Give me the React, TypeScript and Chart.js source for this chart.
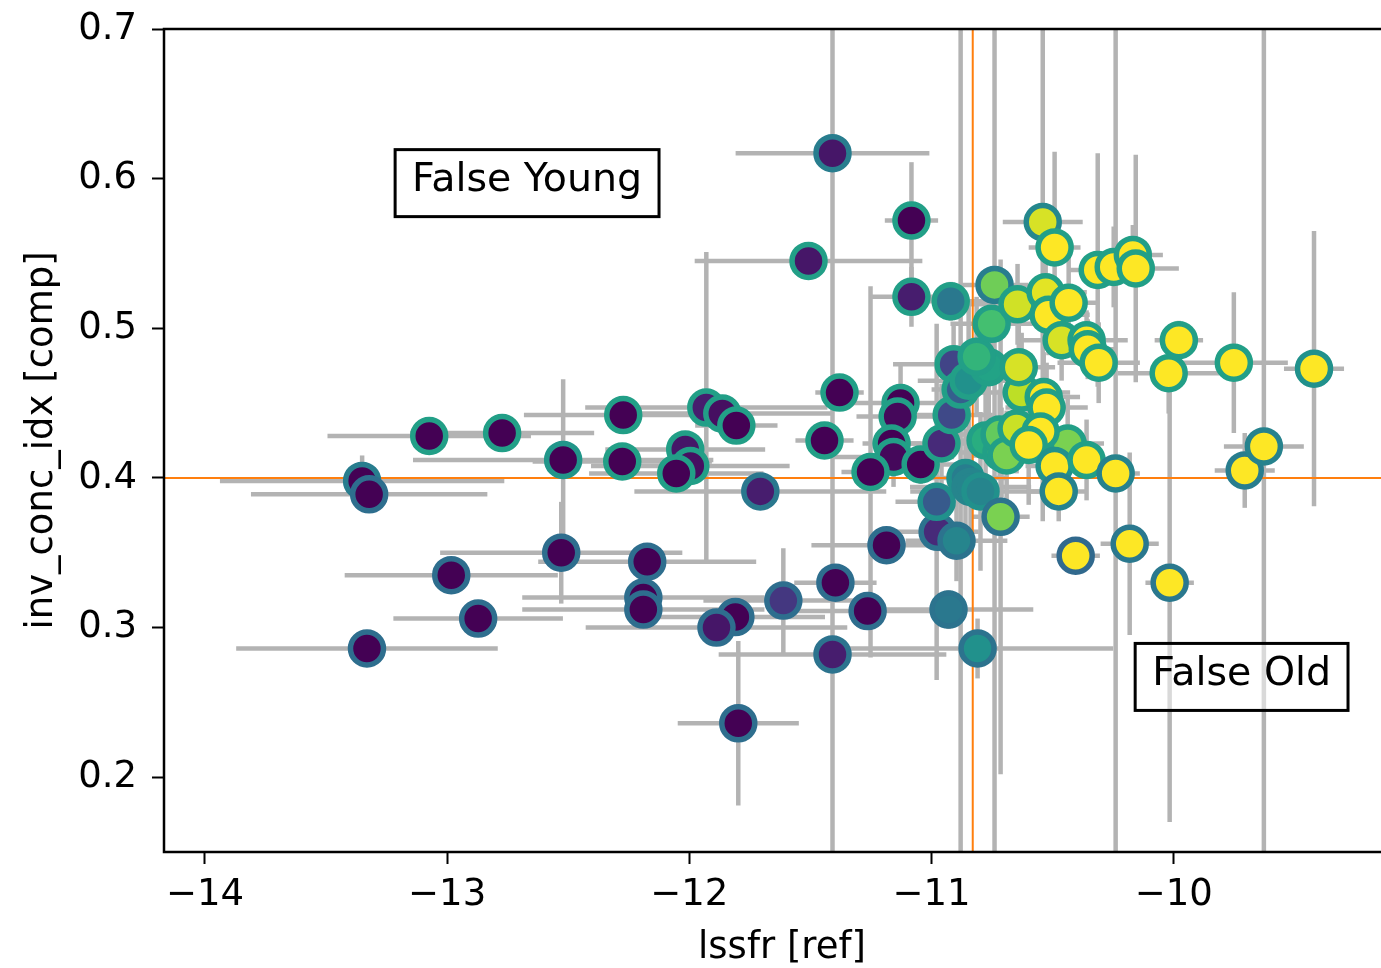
import React, { useEffect, useRef } from "react";
import { Chart, registerables } from "chart.js";
Chart.register(...registerables);

// lssfr [ref] (x) values
const lssfr = [
  -13.351, -13.322, -13.074, -12.773, -12.521, -12.529, -12.983, -12.872, -13.331, -12.273,
  -12.277, -11.930, -11.864, -11.806, -12.017, -11.996, -12.054, -11.707, -11.380, -11.442,
  -11.128, -11.140, -11.165, -11.157, -11.252, -11.045, -11.186, -11.397, -11.264, -11.810,
  -11.888, -12.174, -12.190, -12.190, -11.798, -11.409, -11.409, -11.083, -11.508, -11.083,
  -11.612, -10.975, -10.959, -10.909, -10.917, -10.979, -10.880, -10.921, -10.930, -10.897,
  -10.860, -10.839, -10.798, -10.847, -10.810, -10.764, -10.814, -10.777, -10.752, -10.740,
  -10.715, -10.711, -10.719, -10.690, -10.438, -10.628, -10.649, -10.640, -10.645, -10.541,
  -10.529, -10.517, -10.434, -10.463, -10.360, -10.355, -10.310, -10.492, -10.314, -10.248,
  -10.169, -10.157, -9.979, -10.021, -9.752, -9.421, -10.537, -10.525, -10.550, -10.599,
  -10.492, -10.360, -10.475, -10.240, -9.707, -9.628, -10.405, -10.182, -10.017,
];
// inv_conc_idx [comp] (y) values
const invConc = [
  0.398, 0.389, 0.428, 0.430, 0.412, 0.350, 0.335, 0.306, 0.286, 0.442,
  0.411, 0.447, 0.443, 0.435, 0.419, 0.408, 0.403, 0.391, 0.457, 0.425,
  0.450, 0.441, 0.423, 0.414, 0.404, 0.409, 0.355, 0.330, 0.311, 0.307,
  0.300, 0.344, 0.320, 0.312, 0.236, 0.617, 0.282, 0.572, 0.545, 0.521,
  0.318, 0.364, 0.423, 0.476, 0.442, 0.384, 0.459, 0.518, 0.312, 0.358,
  0.400, 0.394, 0.391, 0.465, 0.286, 0.474, 0.481, 0.425, 0.503, 0.529,
  0.374, 0.417, 0.429, 0.415, 0.423, 0.457, 0.433, 0.474, 0.516, 0.571,
  0.524, 0.509, 0.517, 0.492, 0.492, 0.486, 0.477, 0.554, 0.539, 0.541,
  0.549, 0.540, 0.492, 0.470, 0.477, 0.473, 0.454, 0.447, 0.431, 0.422,
  0.408, 0.412, 0.391, 0.403, 0.405, 0.421, 0.348, 0.356, 0.330,
];
// symmetric error on lssfr
const lssfrErr = [
  0.587, 0.488, 0.42, 0.38, 0.62, 0.50, 0.44, 0.35, 0.54, 0.41,
  0.37, 0.50, 0.45, 0.17, 0.33, 0.41, 0.36, 0.52, 0.10, 0.12,
  0.21, 0.17, 0.12, 0.25, 0.12, 0.17, 0.31, 0.17, 0.37, 0.37,
  0.54, 0.45, 0.50, 0.50, 0.25, 0.40, 0.47, 0.11, 0.47, 0.17,
  0.33, 0.17, 0.25, 0.25, 0.17, 0.17, 0.12, 0.19, 0.35, 0.21,
  0.17, 0.25, 0.29, 0.21, 0.56, 0.17, 0.17, 0.20, 0.17, 0.14,
  0.12, 0.17, 0.20, 0.15, 0.15, 0.20, 0.15, 0.15, 0.20, 0.165,
  0.17, 0.17, 0.12, 0.17, 0.17, 0.12, 0.17, 0.107, 0.12, 0.12,
  0.124, 0.178, 0.10, 0.21, 0.223, 0.124, 0.15, 0.17, 0.12, 0.20,
  0.12, 0.17, 0.12, 0.10, 0.124, 0.165, 0.10, 0.12, 0.10,
];
// symmetric error on inv_conc_idx
const invConcErr = [
  0.017, 0.003, 0, 0, 0.054, 0.034, 0, 0, 0, 0.007,
  0, 0.104, 0, 0, 0, 0, 0, 0, 0, 0,
  0.027, 0.013, 0, 0.02, 0.124, 0.013, 0, 0, 0, 0,
  0, 0, 0, 0.007, 0.055, 0.468, 0, 0.039, 0, 0.02,
  0.035, 0.013, 0.04, 0.027, 0.02, 0.119, 0.309, 0.013, 0.013, 0.027,
  0.033, 0.04, 0.053, 0.053, 0.02, 0.04, 0.04, 0.04, 0.02, 0.38,
  0.172, 0.03, 0.03, 0.03, 0.03, 0.04, 0.03, 0.03, 0.027, 0.2,
  0.02, 0.027, 0.033, 0.027, 0.02, 0.02, 0.027, 0.064, 0.078, 0.027,
  0.02, 0.076, 0.013, 0.027, 0.047, 0.092, 0.03, 0.03, 0.03, 0.04,
  0.027, 0.027, 0.02, 0.30, 0.025, 0.30, 0, 0.061, 0.16,
];
// colormap level of marker face
const fillLevel = [
  0, 0, 0, 0, 0, 0, 0, 0, 0, 0,
  0, 0.08, 0.04, 0, 0.06, 0.04, 0, 0.08, 0, 0,
  0, 0.02, 0, 0.02, 0, 0, 0, 0, 0, 0,
  0.06, 0, 0, 0, 0, 0.06, 0.08, 0, 0.06, 0.08,
  0.16, 0.12, 0.12, 0.2, 0.22, 0.28, 0.3, 0.4, 0.4, 0.45,
  0.42, 0.45, 0.45, 0.5, 0.5, 0.58, 0.65, 0.62, 0.7, 0.78,
  0.8, 0.78, 0.76, 0.8, 0.8, 0.9, 0.92, 0.94, 0.93, 0.94,
  0.96, 1, 1, 0.94, 1, 1, 1, 1, 1, 1,
  1, 1, 1, 1, 1, 1, 1, 1, 1, 1,
  1, 1, 1, 1, 1, 1, 1, 1, 1,
];
// colormap level of marker edge
const edgeLevel = [
  0.42, 0.36, 0.56, 0.56, 0.52, 0.36, 0.36, 0.36, 0.36, 0.56,
  0.56, 0.56, 0.56, 0.56, 0.56, 0.56, 0.56, 0.40, 0.56, 0.56,
  0.56, 0.56, 0.56, 0.56, 0.56, 0.56, 0.36, 0.36, 0.36, 0.36,
  0.36, 0.36, 0.36, 0.36, 0.36, 0.42, 0.38, 0.56, 0.56, 0.56,
  0.36, 0.38, 0.56, 0.56, 0.56, 0.50, 0.56, 0.56, 0.38, 0.38,
  0.50, 0.45, 0.50, 0.56, 0.38, 0.56, 0.56, 0.56, 0.56, 0.42,
  0.38, 0.56, 0.56, 0.56, 0.56, 0.56, 0.56, 0.56, 0.56, 0.46,
  0.56, 0.56, 0.56, 0.56, 0.56, 0.56, 0.56, 0.56, 0.56, 0.56,
  0.56, 0.56, 0.56, 0.56, 0.56, 0.50, 0.56, 0.56, 0.56, 0.56,
  0.50, 0.56, 0.44, 0.44, 0.42, 0.44, 0.34, 0.40, 0.40,
];

const xTickValues = [-14, -13, -12, -11, -10];
const yTickValues = [0.2, 0.3, 0.4, 0.5, 0.6, 0.7];
const X_MIN = -14.169;
const X_MAX = -9.066;
const Y_MIN = 0.15;
const Y_MAX = 0.7;
const refX = -10.83;
const refY = 0.4;
const boxLabels = ["False Young", "False Old"];
const boxX = [-12.67, -9.72];
const boxY = [0.597, 0.267];
const xTitle = "lssfr [ref]";
const yTitle = "inv_conc_idx [comp]";

const VIRIDIS = [
  [68, 1, 84], [72, 36, 117], [65, 68, 135], [53, 95, 141], [42, 120, 142],
  [33, 145, 140], [34, 168, 132], [68, 191, 112], [122, 209, 81], [189, 223, 38], [253, 231, 37],
];
function viridis(t: number): string {
  const c = Math.max(0, Math.min(1, t)) * 10;
  const i = Math.min(9, Math.floor(c));
  const f = c - i;
  const a = VIRIDIS[i], b = VIRIDIS[i + 1];
  const m = (k: number) => Math.round(a[k] + (b[k] - a[k]) * f);
  return `rgb(${m(0)},${m(1)},${m(2)})`;
}

const FONT = "'DejaVu Sans', sans-serif";
const FS = 37;
const BOX_FS = 39.5;

const zeroPad = (s: any) => {
  s.paddingLeft = 0;
  s.paddingRight = 0;
  s.paddingTop = 0;
  s.paddingBottom = 0;
};

const overlayPlugin = {
  id: "overlay",
  beforeDatasetsDraw(chart: any) {
    const { ctx, chartArea: a, scales } = chart;
    const xs = scales.x, ys = scales.y;
    ctx.save();
    ctx.beginPath();
    ctx.rect(a.left, a.top, a.right - a.left, a.bottom - a.top);
    ctx.clip();
    ctx.strokeStyle = "#b3b3b3";
    ctx.lineWidth = 4.5;
    ctx.lineCap = "butt";
    for (let i = 0; i < lssfr.length; i++) {
      const px = xs.getPixelForValue(lssfr[i]);
      const py = ys.getPixelForValue(invConc[i]);
      if (lssfrErr[i] > 0) {
        ctx.beginPath();
        ctx.moveTo(xs.getPixelForValue(lssfr[i] - lssfrErr[i]), py);
        ctx.lineTo(xs.getPixelForValue(lssfr[i] + lssfrErr[i]), py);
        ctx.stroke();
      }
      if (invConcErr[i] > 0) {
        ctx.beginPath();
        ctx.moveTo(px, ys.getPixelForValue(invConc[i] - invConcErr[i]));
        ctx.lineTo(px, ys.getPixelForValue(invConc[i] + invConcErr[i]));
        ctx.stroke();
      }
    }
    ctx.strokeStyle = "#ff7f0e";
    ctx.lineWidth = 2;
    const rx = xs.getPixelForValue(refX);
    const ry = ys.getPixelForValue(refY);
    ctx.beginPath();
    ctx.moveTo(rx, a.top);
    ctx.lineTo(rx, a.bottom);
    ctx.moveTo(a.left, ry);
    ctx.lineTo(a.right, ry);
    ctx.stroke();
    ctx.restore();
  },
  afterDatasetsDraw(chart: any) {
    const { ctx, chartArea: a, scales } = chart;
    const xs = scales.x, ys = scales.y;
    ctx.save();
    ctx.font = `${BOX_FS}px ${FONT}`;
    for (let i = 0; i < boxLabels.length; i++) {
      const cx = xs.getPixelForValue(boxX[i]);
      const cy = ys.getPixelForValue(boxY[i]);
      const tw = ctx.measureText(boxLabels[i]).width;
      const w = tw + 34;
      const h = 67;
      ctx.fillStyle = "rgba(255,255,255,0.5)";
      ctx.fillRect(cx - w / 2, cy - h / 2, w, h);
      ctx.strokeStyle = "#000";
      ctx.lineWidth = 3;
      ctx.strokeRect(cx - w / 2, cy - h / 2, w, h);
      ctx.fillStyle = "#000";
      ctx.textAlign = "center";
      ctx.textBaseline = "middle";
      ctx.fillText(boxLabels[i], cx, cy - 2);
    }
    ctx.strokeStyle = "#000";
    ctx.lineWidth = 2.5;
    ctx.beginPath();
    ctx.moveTo(a.left, a.top);
    ctx.lineTo(a.left, a.bottom);
    ctx.lineTo(a.right, a.bottom);
    ctx.lineTo(a.right, a.top);
    ctx.closePath();
    ctx.stroke();
    ctx.restore();
  },
};

export default function App() {
  const ref = useRef<HTMLCanvasElement>(null);
  useEffect(() => {
    const points = lssfr.map((x, i) => ({ x, y: invConc[i] }));
    const chart = new Chart(ref.current as HTMLCanvasElement, {
      type: "scatter",
      data: {
        datasets: [
          {
            data: points,
            pointRadius: 16.5,
            pointHoverRadius: 16.5,
            pointBackgroundColor: fillLevel.map(viridis),
            pointBorderColor: edgeLevel.map(viridis),
            pointBorderWidth: 5.5,
            pointHoverBorderWidth: 5.5,
          },
        ],
      },
      options: {
        responsive: false,
        animation: false,
        devicePixelRatio: 1,
        events: [],
        layout: { autoPadding: false, padding: { top: 29, right: 0, bottom: 0, left: 0 } },
        plugins: { legend: { display: false }, tooltip: { enabled: false } },
        scales: {
          x: {
            type: "linear",
            min: X_MIN,
            max: X_MAX,
            afterBuildTicks: (s: any) => {
              s.ticks = xTickValues.map((v) => ({ value: v }));
            },
            afterFit: (s: any) => {
              s.height = 116;
              zeroPad(s);
            },
            border: { display: false },
            grid: { display: true, drawOnChartArea: false, drawTicks: true, tickLength: 12, tickWidth: 2, tickColor: "#000" },
            ticks: {
              color: "#000",
              padding: 9,
              maxRotation: 0,
              font: { family: FONT, size: FS },
              callback: (v: any) => (Number(v) < 0 ? "\u2212" + Math.abs(Number(v)) : String(v)),
            },
            title: { display: true, text: xTitle, color: "#000", font: { family: FONT, size: FS }, padding: { top: 0, bottom: -3 } },
          },
          y: {
            type: "linear",
            min: Y_MIN,
            max: Y_MAX,
            afterBuildTicks: (s: any) => {
              s.ticks = yTickValues.map((v) => ({ value: v }));
            },
            afterFit: (s: any) => {
              s.width = 164;
              zeroPad(s);
            },
            border: { display: false },
            grid: { display: true, drawOnChartArea: false, drawTicks: true, tickLength: 12, tickWidth: 2, tickColor: "#000" },
            ticks: {
              color: "#000",
              padding: 15,
              font: { family: FONT, size: FS },
              callback: (v: any) => Number(v).toFixed(1),
            },
            title: { display: true, text: yTitle, color: "#000", font: { family: FONT, size: FS }, padding: { top: 20, bottom: 0 } },
          },
        },
      },
      plugins: [overlayPlugin],
    });
    return () => chart.destroy();
  }, []);
  return (
    <div style={{ position: "absolute", left: 0, top: 0, width: 1381, height: 968, overflow: "hidden", background: "#fff" }}>
      <canvas ref={ref} width={1400} height={968} style={{ display: "block" }} />
    </div>
  );
}
